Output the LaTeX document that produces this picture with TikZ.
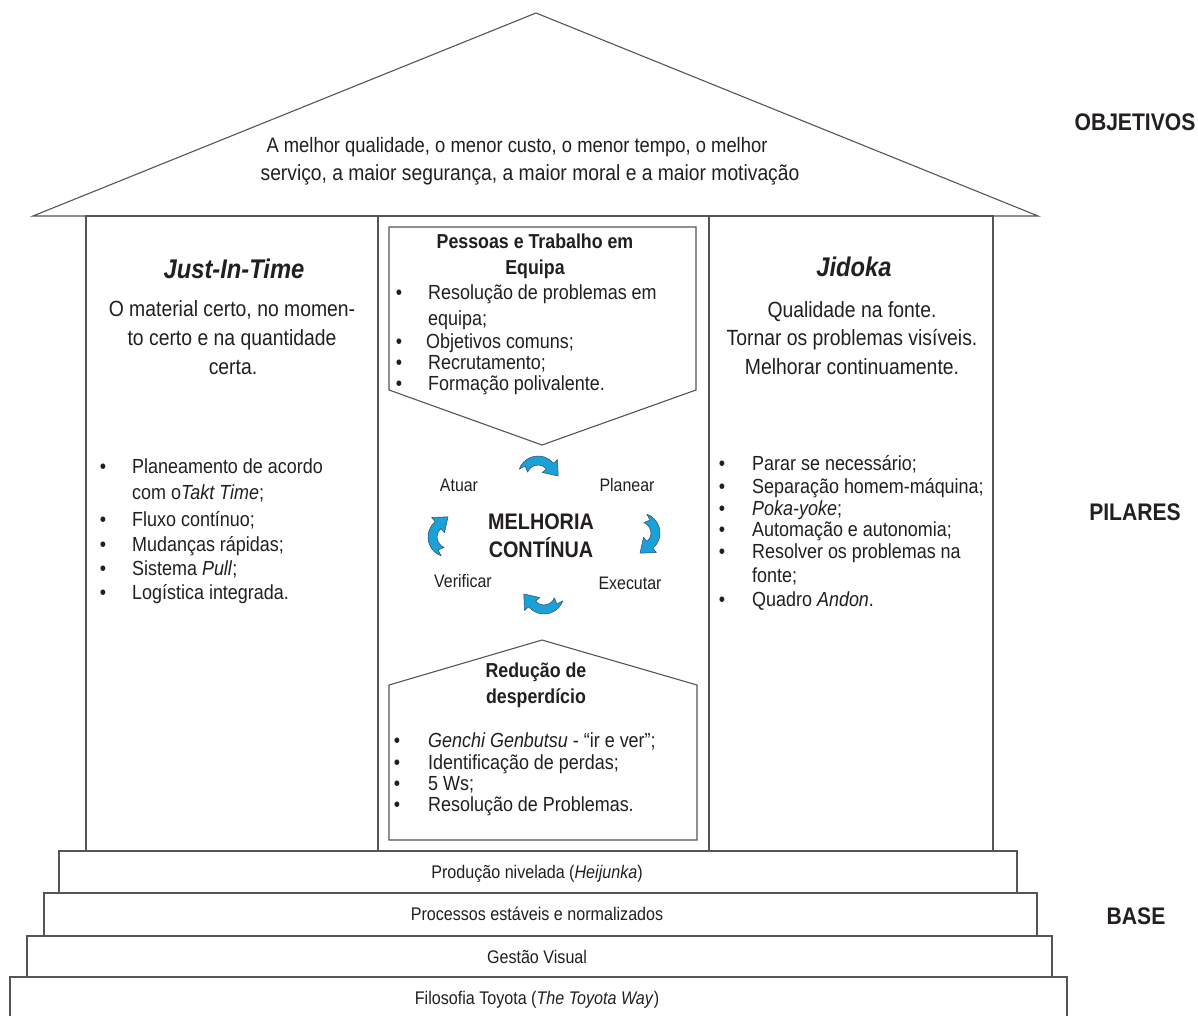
\documentclass[tikz,border=0pt]{standalone}
\usepackage{fontspec}
\setmainfont{Liberation Sans}[FakeStretch=0.88]
\definecolor{linegray}{RGB}{85,85,85}
\definecolor{ink}{RGB}{35,31,32}
\definecolor{arrowblue}{RGB}{28,160,216}
\definecolor{arrowedge}{RGB}{45,75,105}

\begin{document}
\begin{tikzpicture}[x=1pt,y=-1pt,
  frame/.style={draw=linegray, line width=1.1pt},
  txt/.style={inner sep=0pt, text=ink, anchor=base},
  lft/.style={txt, anchor=base west},
  fs/.style={font=\fontsize{#1}{#1}\selectfont},
  fsb/.style={font=\fontsize{#1}{#1}\selectfont\bfseries},
  fsbi/.style={font=\fontsize{#1}{#1}\selectfont\bfseries\itshape},
  bul/.style={txt, fs=20.4},
  item/.style={lft, fs=20.4},
  arrowfill/.style={fill=arrowblue, draw=arrowedge, line width=0.5pt, line join=round},
  cyclearrow/.pic={
    \filldraw[arrowfill, yscale=-1]
      (160:20) arc[start angle=160, end angle=40, radius=20]
      -- (40:25.5) -- (20.2,0) -- (40:5.5) -- (40:11)
      arc[start angle=40, end angle=160, radius=11]
      -- (-12.9,10) -- cycle;
  }
]
\useasboundingbox (0,0) rectangle (1198,1015);
\fill[white] (0,0) rectangle (1198,1015);

% roof
\draw[frame, fill=white] (33,216) coordinate (eaveL) -- (536,13) coordinate (apex)
  -- (1038,216) coordinate (eaveR) -- cycle;

% pillars
\draw[frame] (86,216) rectangle (993,851);
\draw[frame] (378,216) -- (378,851);
\draw[frame] (709,216) -- (709,851);

% inner boxes of the middle pillar
\draw[frame] (389,227) -- (696,227) -- (696,390) -- (542,445) -- (389,390) -- cycle;
\draw[frame] (389,840) -- (389,685) -- (542,640) -- (697,685) -- (697,840) -- cycle;

% base steps
\draw[frame, fill=white] (59,851) rectangle (1017,893);
\draw[frame, fill=white] (44,893) rectangle (1037,936);
\draw[frame, fill=white] (27,936) rectangle (1052,977);
\draw[frame] (10,1016) -- (10,977) -- (1067,977) -- (1067,1016);

% goals
\node[txt, fs=20.9] (goalA) at (517,152) {A melhor qualidade, o menor custo, o menor tempo, o melhor};
\node[txt, fs=21.9] (goalB) at (530,180) {serviço, a maior segurança, a maior moral e a maior motivação};

% side labels
\node[txt, fsb=24] (lblObj) at (1135,130) {OBJETIVOS};
\node[txt, fsb=24] (lblPil) at (1135,520) {PILARES};
\node[txt, fsb=24] (lblBase) at (1136,924) {BASE};

% Just-In-Time pillar
\node[txt, fsbi=27] (jitTitle) at (234,278) {Just-In-Time};
\node[txt, fs=22] (jitA) at (232,316) {O material certo, no momen-};
\node[txt, fs=22] (jitB) at (232,345) {to certo e na quantidade};
\node[txt, fs=22] (jitC) at (233,374) {certa.};
\node[bul] (jb1) at (103,473) {•};
\node[item] (ji1) at (132,473) {Planeamento de acordo};
\node[item] (ji1b) at (132,499) {com o\textit{Takt Time};};
\node[bul] (jb2) at (103,526) {•};
\node[item] (ji2) at (132,526) {Fluxo contínuo;};
\node[bul] (jb3) at (103,551) {•};
\node[item] (ji3) at (132,551) {Mudanças rápidas;};
\node[bul] (jb4) at (103,575) {•};
\node[item] (ji4) at (132,575) {Sistema \textit{Pull};};
\node[bul] (jb5) at (103,599) {•};
\node[item] (ji5) at (132,599) {Logística integrada.};

% Jidoka pillar
\node[txt, fsbi=27] (jdTitle) at (854,276) {Jidoka};
\node[txt, fs=22] (jdA) at (852,317) {Qualidade na fonte.};
\node[txt, fs=22] (jdB) at (852,345) {Tornar os problemas visíveis.};
\node[txt, fs=22] (jdC) at (852,374) {Melhorar continuamente.};
\node[bul] (kb1) at (722,470) {•};
\node[item] (ki1) at (752,470) {Parar se necessário;};
\node[bul] (kb2) at (722,493) {•};
\node[item] (ki2) at (752,493) {Separação homem-máquina;};
\node[bul] (kb3) at (722,515) {•};
\node[item] (ki3) at (752,515) {\textit{Poka-yoke};};
\node[bul] (kb4) at (722,536) {•};
\node[item] (ki4) at (752,536) {Automação e autonomia;};
\node[bul] (kb5) at (722,558) {•};
\node[item] (ki5) at (752,558) {Resolver os problemas na};
\node[item] (ki5b) at (752,582) {fonte;};
\node[bul] (kb6) at (722,606) {•};
\node[item] (ki6) at (752,606) {Quadro \textit{Andon}.};

% people and teamwork
\node[txt, fsb=20.2] (pTitleA) at (535,248) {Pessoas e Trabalho em};
\node[txt, fsb=20.2] (pTitleB) at (535,274) {Equipa};
\node[bul] (pb1) at (399,299) {•};
\node[item] (pi1) at (428,299) {Resolução de problemas em};
\node[item] (pi1b) at (428,325) {equipa;};
\node[bul] (pb2) at (399,348) {•};
\node[item] (pi2) at (426,348) {Objetivos comuns;};
\node[bul] (pb3) at (399,369) {•};
\node[item] (pi3) at (428,369) {Recrutamento;};
\node[bul] (pb4) at (399,390) {•};
\node[item] (pi4) at (428,390) {Formação polivalente.};

% continuous improvement cycle
\node[txt, fsb=22.5] (ciA) at (541,529) {MELHORIA};
\node[txt, fsb=22.5] (ciB) at (541,557) {CONTÍNUA};
\node[txt, fs=18.1] (stAct) at (459,491) {Atuar};
\node[txt, fs=18.1] (stPlan) at (627,491) {Planear};
\node[txt, fs=18.1] (stCheck) at (463,587) {Verificar};
\node[txt, fs=18.1] (stDo) at (630,589) {Executar};
\pic at (538,476) {cyclearrow};
\pic[rotate=-90] at (640,533) {cyclearrow};
\pic[rotate=180] at (544,594) {cyclearrow};
\pic[rotate=90] at (448,537) {cyclearrow};

% waste reduction
\node[txt, fsb=20.2] (wTitleA) at (536,677) {Redução de};
\node[txt, fsb=20.2] (wTitleB) at (536,703) {desperdício};
\node[bul] (wb1) at (397,747) {•};
\node[item] (wi1) at (428,747) {\textit{Genchi Genbutsu} - “ir e ver”;};
\node[bul] (wb2) at (397,769) {•};
\node[item] (wi2) at (428,769) {Identificação de perdas;};
\node[bul] (wb3) at (397,790) {•};
\node[item] (wi3) at (428,790) {5 Ws;};
\node[bul] (wb4) at (397,811) {•};
\node[item] (wi4) at (428,811) {Resolução de Problemas.};

% base texts
\node[txt, fs=18.3] (baseA) at (537,878) {Produção nivelada (\textit{Heijunka})};
\node[txt, fs=18.3] (baseB) at (537,920) {Processos estáveis e normalizados};
\node[txt, fs=18.3] (baseC) at (537,963) {Gestão Visual};
\node[txt, fs=18.3] (baseD) at (537,1004) {Filosofia Toyota (\textit{The Toyota Way})};
\end{tikzpicture}
\end{document}
